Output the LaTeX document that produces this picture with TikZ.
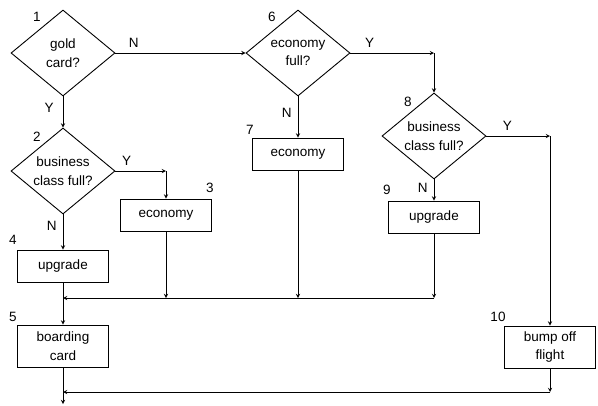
\documentclass[tikz,border=0pt]{standalone}
\usepackage{fontspec}
\setmainfont{Liberation Sans}
\usetikzlibrary{shapes.geometric, arrows}
\tikzstyle{decision} = [diamond, aspect=1.21, minimum width=104pt, minimum height=86pt, inner sep=0pt, align=center, draw=black, line width=0.9pt]
\tikzstyle{process} = [rectangle, minimum width=91pt, minimum height=32pt, inner sep=2pt, align=center, draw=black, line width=0.9pt]
\tikzstyle{twoline} = [process, minimum height=42pt]
\tikzstyle{arrow} = [line width=0.9pt, ->, >=stealth]
\tikzstyle{yn} = [inner sep=0pt]
\tikzstyle{num} = [inner sep=0pt]

\begin{document}
\begin{tikzpicture}[x=1pt, y=-1pt, font=\fontsize{13.5}{18.5}\selectfont]
	\useasboundingbox (0,0) rectangle (598,405);
	\node (gold) [decision] at (63,53) {gold\\card?};
	\node (bus2) [decision] at (63,171) {business\\class full?};
	\node (econ3) [process] at (166,215) {economy};
	\node (up4) [process] at (63,266) {upgrade};
	\node (board5) [twoline] at (63,346) {boarding\\card};
	\node (econfull) [decision] at (298,53) {economy\\full?};
	\node (econ7) [process] at (298,154) {economy};
	\node (bus8) [decision] at (434,136) {business\\class full?};
	\node (up9) [process] at (434,217) {upgrade};
	\node (bump10) [twoline] at (550,347) {bump off\\flight};

	\node (n1) [num] at (37,17) {1};
	\node (n2) [num] at (37,137) {2};
	\node (n3) [num] at (210,188) {3};
	\node (n4) [num] at (13,240) {4};
	\node (n5) [num] at (13,317) {5};
	\node (n6) [num] at (272,17) {6};
	\node (n7) [num] at (250,130) {7};
	\node (n8) [num] at (408,102) {8};
	\node (n9) [num] at (387,190) {9};
	\node (n10) [num] at (498,317) {10};

	\coordinate (j2) at (166,171);
	\coordinate (j6) at (434,53);
	\coordinate (j8) at (550,136);
	\coordinate (m3) at (166,298);
	\coordinate (m4) at (63,298);
	\coordinate (m7) at (298,298);
	\coordinate (m9) at (434,298);
	\coordinate (m5) at (63,392);
	\coordinate (m10) at (550,392);
	\coordinate (out) at (63,404);

	\draw [arrow] (gold) -- node [yn, pos=0.14, above=5pt] {N} (econfull);
	\draw [arrow] (gold) -- node [yn, pos=0.38, left=9pt] {Y} (bus2);
	\draw [arrow] (bus2) -- node [yn, pos=0.22, above=5pt] {Y} (j2);
	\draw [arrow] (j2) -- (econ3);
	\draw [arrow] (bus2) -- node [yn, pos=0.32, left=6pt] {N} (up4);
	\draw [arrow] (econfull) -- node [yn, pos=0.4, left=6pt] {N} (econ7);
	\draw [arrow] (econfull) -- node [yn, pos=0.23, above=5pt] {Y} (j6);
	\draw [arrow] (j6) -- (bus8);
	\draw [arrow] (bus8) -- node [yn, pos=0.33, above=5pt] {Y} (j8);
	\draw [arrow] (j8) -- (bump10);
	\draw [arrow] (bus8) -- node [yn, pos=0.4, left=6pt] {N} (up9);

	\draw [arrow] (econ3) -- (m3);
	\draw [arrow] (econ7) -- (m7);
	\draw [arrow] (up9) -- (m9);
	\draw [arrow] (m9) -- (m4);
	\draw [arrow] (up4) -- (board5);
	\draw [arrow] (bump10) -- (m10);
	\draw [arrow] (m10) -- (m5);
	\draw [arrow] (board5) -- (out);
\end{tikzpicture}
\end{document}
